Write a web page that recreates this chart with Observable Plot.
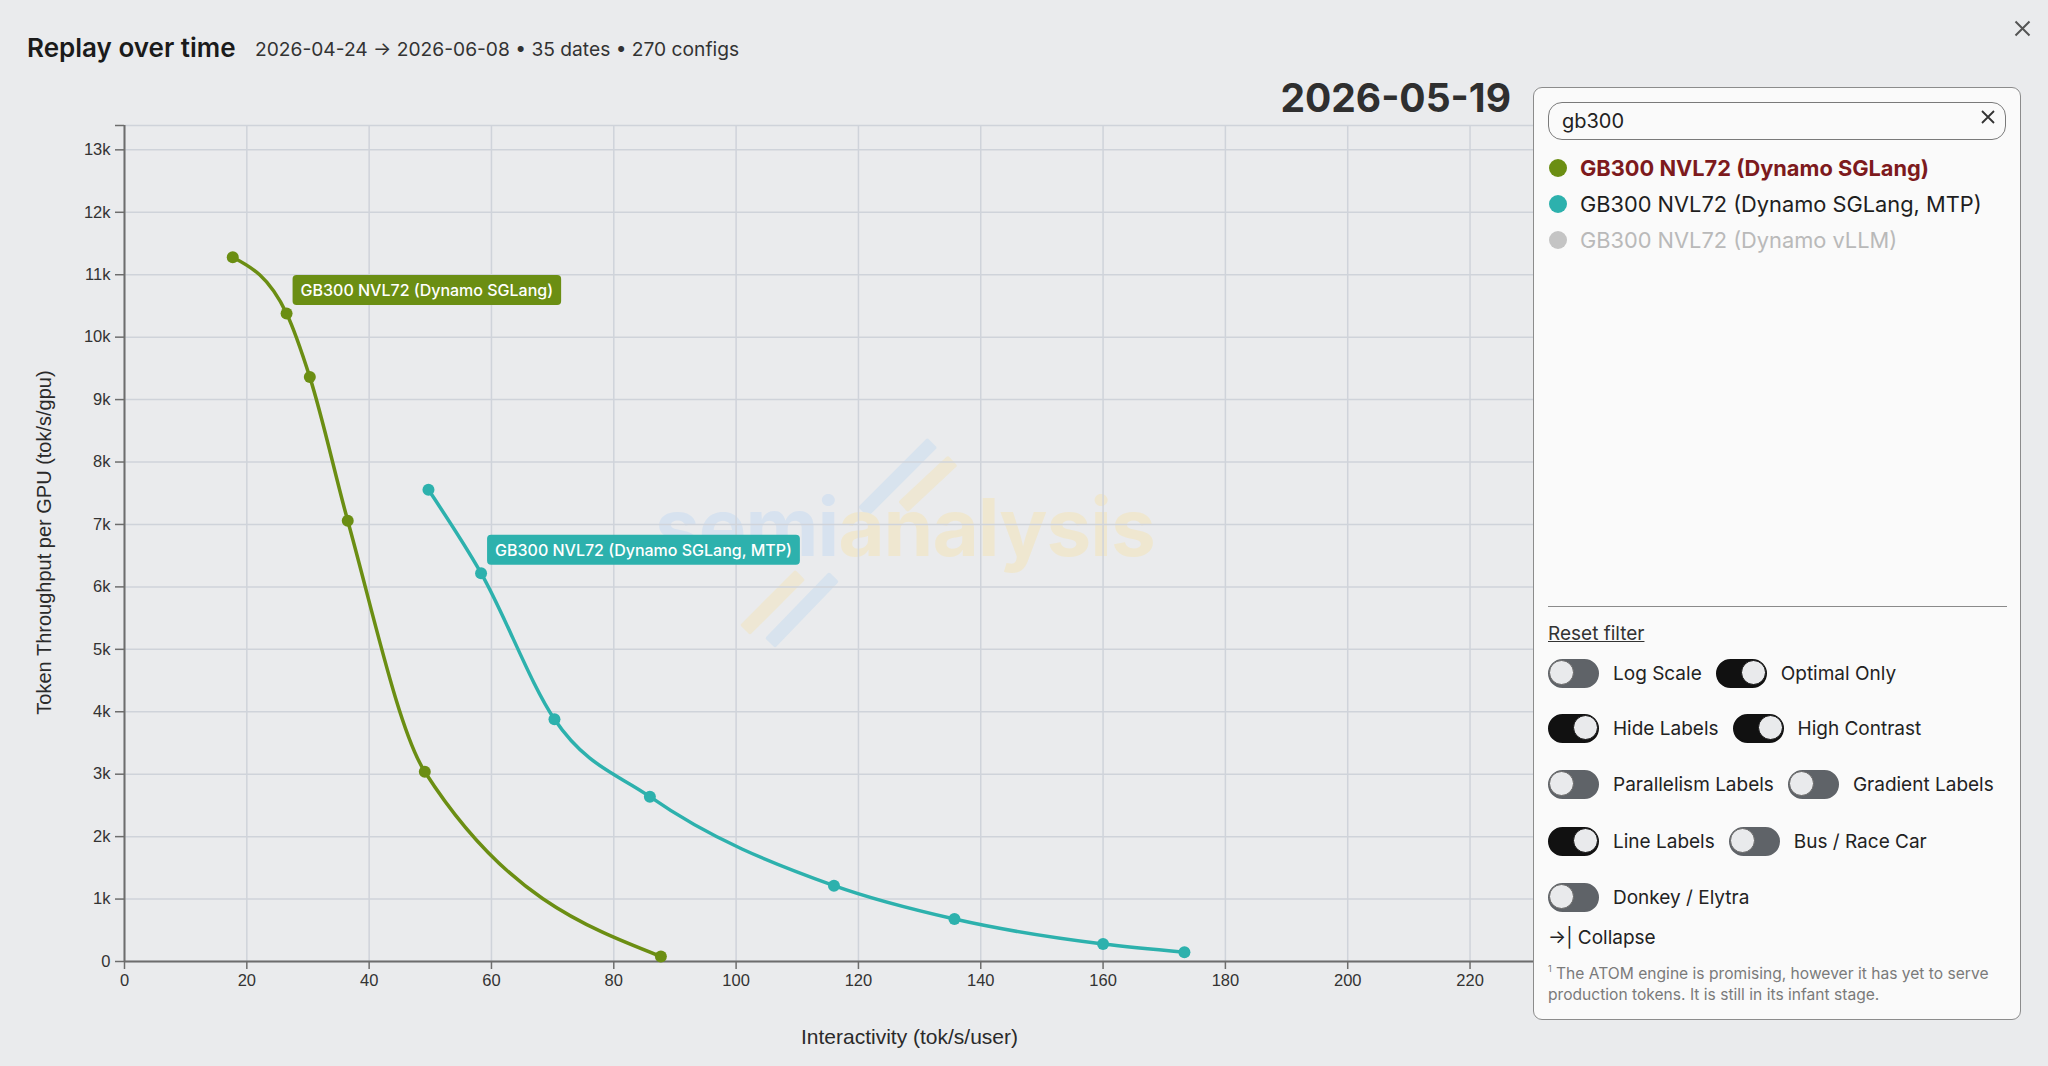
<!DOCTYPE html>
<html><head><meta charset="utf-8">
<script src="https://cdn.jsdelivr.net/npm/d3@7"></script>
<script src="https://cdn.jsdelivr.net/npm/@observablehq/plot@0.6"></script>
<style>
html,body{margin:0;padding:0}
body{width:2048px;height:1066px;background:#eaebed;font-family:Inter,"Noto Sans",sans-serif;overflow:hidden;position:relative;color:#222}
#title{position:absolute;left:27px;top:33px;font-size:26px;font-weight:600;color:#1b1b1b;line-height:30px;white-space:nowrap}
#subtitle{position:absolute;left:255px;top:35px;font-size:19.2px;color:#333;line-height:28px;white-space:nowrap}
#date{position:absolute;right:537px;top:76px;font-size:39px;font-weight:700;color:#2f2f2f;line-height:44px;white-space:nowrap}
#close{position:absolute;left:2014px;top:20px}
#chart{position:absolute;left:0;top:70px}
#wm{position:absolute;left:0;top:0;width:2048px;height:1066px;pointer-events:none}
#wmtext{position:absolute;left:655px;top:482px;font-size:80px;font-weight:700;letter-spacing:-1px;white-space:nowrap;line-height:90px}
.bar{position:absolute;height:14px;border-radius:2px;transform-origin:0 50%}
#panel{position:absolute;left:1533px;top:87px;width:486px;height:931px;border:1.5px solid #8c8c8c;border-radius:9px;background:#fafafa;box-sizing:content-box}
#search{position:absolute;left:14px;top:14px;width:456px;height:36px;border:1.5px solid #7a7a7a;border-radius:14px;box-sizing:content-box}
#search span{position:absolute;left:13px;top:6px;font-size:20px;line-height:24px;color:#222}
#search i{position:absolute;right:10px;top:5px;font-style:normal}
.leg{position:absolute;left:14px;height:30px;display:flex;align-items:center;font-size:21.8px;white-space:nowrap}
.leg b{display:inline-block;width:18px;height:18px;border-radius:50%;margin:0 13px 0 0}
#sep{position:absolute;left:14px;top:518px;width:459px;height:0;border-top:1.5px solid #8a8a8a}
#reset{position:absolute;left:14px;top:533px;font-size:19px;color:#333;text-decoration:underline;line-height:26px}
.row{position:absolute;left:14px;display:flex;align-items:center;height:30px;white-space:nowrap;font-size:19px;color:#222}
.tg{width:47px;height:25px;border-radius:15px;border:2px solid;position:relative;margin-right:14px;flex:none}
.tg.off{background:#5f6368;border-color:#5f6368}
.tg.on{background:#111;border-color:#111}
.tg::after{content:"";position:absolute;top:-1px;width:25px;height:25px;border-radius:50%;background:#e9eaec;border:1px solid #666;box-sizing:border-box}
.tg.off::after{left:-1px}
.tg.on::after{right:-1px;border-color:#111}
.row .lab{margin-right:14px}
#collapse{position:absolute;left:14px;top:836px;font-size:19px;line-height:28px;color:#222;white-space:nowrap}
#foot{position:absolute;left:14px;top:870px;width:470px;font-size:15.6px;line-height:21px;color:#7a7a7a}
#foot sup{font-size:9px;vertical-align:7px}
</style></head><body>
<div id="wm">
  <div class="bar" style="left:863px;top:505px;width:98px;background:#c9dcee;opacity:.55;transform:rotate(-45deg)"></div>
  <div class="bar" style="left:903px;top:500px;width:68px;background:#f1e4bf;opacity:.55;transform:rotate(-43deg)"></div>
  <div class="bar" style="left:745px;top:623px;width:78px;background:#f1e4bf;opacity:.55;transform:rotate(-45deg)"></div>
  <div class="bar" style="left:770px;top:636px;width:92px;background:#c9dcee;opacity:.55;transform:rotate(-46deg)"></div>
  <div id="wmtext"><span style="color:#d7e2ef">semi</span><span style="color:#efe7d0">analysis</span></div>
</div>
<div id="chart"></div>
<div id="title">Replay over time</div>
<div id="subtitle">2026-04-24 → 2026-06-08 • 35 dates • 270 configs</div>
<div id="date">2026-05-19</div>
<svg id="close" width="17" height="17" viewBox="0 0 17 17"><path d="M1.5 1.5L15.5 15.5M15.5 1.5L1.5 15.5" stroke="#555" stroke-width="2"/></svg>
<div id="panel">
  <div id="search"><span>gb300</span><i><svg width="14" height="14" viewBox="0 0 14 14"><path d="M1 1L13 13M13 1L1 13" stroke="#333" stroke-width="1.8"/></svg></i></div>
  <div id="legend"></div>
  <div id="sep"></div>
  <div id="reset">Reset filter</div>
  <div id="toggles"></div>
  <div id="collapse">→| Collapse</div>
  <div id="foot"><sup>1</sup> The ATOM engine is promising, however it has yet to serve production tokens. It is still in its infant stage.</div>
</div>
<script>
// ---- data ----
const seriesNames = ["GB300 NVL72 (Dynamo SGLang)", "GB300 NVL72 (Dynamo SGLang, MTP)"];
const seriesColors = ["#6b8e13", "#2db1ad"];
const sglangX = [17.7, 26.5, 30.3, 36.5, 49.1, 87.7];
const sglangY = [11280, 10380, 9360, 7060, 3040, 80];
const mtpX = [49.7, 58.3, 70.3, 85.9, 116.0, 135.7, 160.0, 173.3];
const mtpY = [7555, 6220, 3880, 2640, 1215, 680, 280, 150];
const labelIndex = [1, 1];
const xTicks = [0, 20, 40, 60, 80, 100, 120, 140, 160, 180, 200, 220];
const yTicks = [0, 1000, 2000, 3000, 4000, 5000, 6000, 7000, 8000, 9000, 10000, 11000, 12000, 13000];
const xDomain = [0, 256.7];
const yDomain = [0, 13390];
const xLabel = "Interactivity (tok/s/user)";
const yLabel = "Token Throughput per GPU (tok/s/gpu)";
const legendNames = ["GB300 NVL72 (Dynamo SGLang)", "GB300 NVL72 (Dynamo SGLang, MTP)", "GB300 NVL72 (Dynamo vLLM)"];
const legendColors = ["#6b8e13", "#2db1ad", "#c4c4c4"];
const legendTextColors = ["#7d1a1d", "#1e1e1e", "#b9b9b9"];
const legendWeights = [700, 400, 400];
const toggleRows = [
  [["Log Scale", false], ["Optimal Only", true]],
  [["Hide Labels", true], ["High Contrast", true]],
  [["Parallelism Labels", false], ["Gradient Labels", false]],
  [["Line Labels", true], ["Bus / Race Car", false]],
  [["Donkey / Elytra", false]]
];

// ---- build rows ----
const allX = [sglangX, mtpX], allY = [sglangY, mtpY];
const rows = [];
const labelRows = [];
seriesNames.forEach((s, i) => {
  allX[i].forEach((x, j) => {
    const r = {series: s, x, y: allY[i][j]};
    rows.push(r);
    if (j === labelIndex[i]) labelRows.push(r);
  });
});

const gridColor = "#cfd3da";
const axisColor = "#6d6d6d";
const plot = Plot.plot({
  width: 1710, height: 1000,
  marginLeft: 124, marginRight: 16, marginTop: 55, marginBottom: 109,
  style: {background: "transparent", fontFamily: "'Liberation Sans', Arial, sans-serif", fontSize: "16.5px", color: "#333", overflow: "visible"},
  x: {domain: xDomain, label: null},
  y: {domain: yDomain, label: null},
  color: {domain: seriesNames, range: seriesColors},
  marks: [
    Plot.gridX(xTicks.concat([240]), {stroke: gridColor, strokeOpacity: 1, strokeWidth: 1.5}),
    Plot.gridY(yTicks, {stroke: gridColor, strokeOpacity: 1, strokeWidth: 1.5}),
    Plot.frame({anchor: "top", stroke: gridColor, strokeWidth: 1.5}),
    Plot.ruleX([0], {stroke: axisColor, strokeWidth: 2}),
    Plot.ruleY([0], {stroke: axisColor, strokeWidth: 2}),
    Plot.axisX(xTicks, {tickSize: 8, tickPadding: 5, stroke: axisColor, strokeWidth: 1.5, label: null, fill: "#333", fontSize: 16.5}),
    Plot.axisY(yTicks, {tickSize: 9, tickPadding: 5, stroke: axisColor, strokeWidth: 1.5, label: null, fill: "#333", fontSize: 16.5,
      tickFormat: d => d === 0 ? "0" : (d / 1000) + "k"}),
    Plot.axisY([yDomain[1]], {tickSize: 9, stroke: axisColor, strokeWidth: 1.5, label: null, tickFormat: () => ""}),
    Plot.text([xLabel], {frameAnchor: "bottom", textAnchor: "middle", dy: 76, fontSize: 21, fill: "#2a2a2a", lineAnchor: "middle"}),
    Plot.text([yLabel], {frameAnchor: "left", textAnchor: "middle", dx: -80, dy: -1, rotate: -90, fontSize: 20, fill: "#2a2a2a", lineAnchor: "middle"}),
    Plot.line(rows, {x: "x", y: "y", z: "series", stroke: "series", curve: "monotone-x", strokeWidth: 3.5}),
    Plot.dot(rows, {x: "x", y: "y", fill: "series", r: 6}),
    Plot.text(labelRows, {x: "x", y: "y", text: "series", textAnchor: "start", lineAnchor: "middle", dx: 14, dy: -22.5,
      fill: "white", fontSize: 16, fontWeight: 500, fontFamily: "Inter, sans-serif"})
  ]
});
document.getElementById("chart").appendChild(plot);

// label backgrounds
plot.querySelectorAll('g[aria-label="text"] text').forEach(t => {
  const idx = seriesNames.indexOf(t.textContent);
  if (idx < 0) return;
  const b = t.getBBox();
  const rect = document.createElementNS("http://www.w3.org/2000/svg", "rect");
  const cy = b.y + b.height / 2;
  rect.setAttribute("x", b.x - 8);
  rect.setAttribute("y", cy - 15);
  rect.setAttribute("width", b.width + 16);
  rect.setAttribute("height", 30);
  rect.setAttribute("rx", 4);
  rect.setAttribute("fill", seriesColors[idx]);
  if (t.getAttribute("transform")) rect.setAttribute("transform", t.getAttribute("transform"));
  t.parentNode.insertBefore(rect, t);
});

// legend
const leg = document.getElementById("legend");
const legTops = [65, 101, 137];
legendNames.forEach((n, i) => {
  const d = document.createElement("div");
  d.className = "leg";
  d.style.top = legTops[i] + "px";
  d.style.left = "15px";
  d.innerHTML = `<b style="background:${legendColors[i]}"></b><span style="color:${legendTextColors[i]};font-weight:${legendWeights[i]}">${n}</span>`;
  leg.appendChild(d);
});

// toggles
const tgl = document.getElementById("toggles");
const rowTops = [570, 625.5, 681, 738, 794];
toggleRows.forEach((r, i) => {
  const d = document.createElement("div");
  d.className = "row";
  d.style.top = rowTops[i] + "px";
  d.innerHTML = r.map(([lab, on]) => `<div class="tg ${on ? "on" : "off"}"></div><span class="lab">${lab}</span>`).join("");
  tgl.appendChild(d);
});
</script>
</body></html>
